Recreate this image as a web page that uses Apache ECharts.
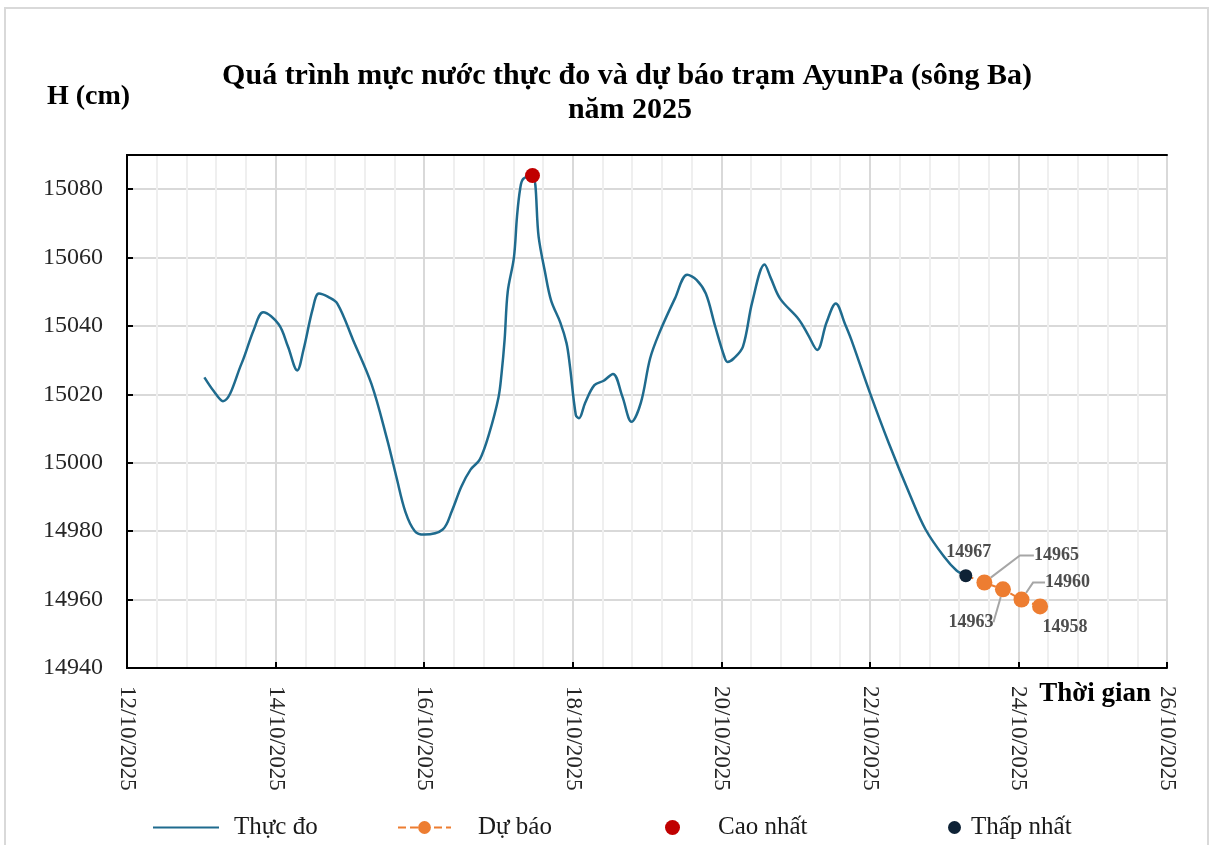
<!DOCTYPE html>
<html><head><meta charset="utf-8">
<script src="https://cdn.jsdelivr.net/npm/echarts@6/dist/echarts.min.js"></script>
<style>html,body{margin:0;padding:0;background:#fff}#c{width:1211px;height:845px}</style>
</head><body><div id="c"></div>
<script>
// ---- data ----
const observedTimes = [
 '2025-10-13 01:00','2025-10-13 04:00','2025-10-13 07:00','2025-10-13 13:00','2025-10-13 17:00','2025-10-13 20:00',
 '2025-10-14 01:00','2025-10-14 04:00','2025-10-14 07:00','2025-10-14 09:00','2025-10-14 12:00','2025-10-14 14:00','2025-10-14 17:00','2025-10-14 20:00',
 '2025-10-15 01:00','2025-10-15 07:00','2025-10-15 12:00','2025-10-15 15:00','2025-10-15 18:00','2025-10-15 21:00',
 '2025-10-16 00:00','2025-10-16 06:00','2025-10-16 09:00','2025-10-16 12:00','2025-10-16 15:00','2025-10-16 18:00','2025-10-16 21:00',
 '2025-10-17 00:00','2025-10-17 01:00','2025-10-17 02:00','2025-10-17 03:00','2025-10-17 05:00','2025-10-17 06:00','2025-10-17 07:00','2025-10-17 08:00','2025-10-17 11:00',
 '2025-10-17 13:00','2025-10-17 15:00','2025-10-17 17:00','2025-10-17 20:00','2025-10-17 22:00','2025-10-17 23:00',
 '2025-10-18 01:00','2025-10-18 02:00','2025-10-18 04:00','2025-10-18 07:00','2025-10-18 10:00','2025-10-18 13:00','2025-10-18 16:00','2025-10-18 19:00','2025-10-18 22:00',
 '2025-10-19 01:00','2025-10-19 04:00','2025-10-19 09:00','2025-10-19 13:00','2025-10-19 16:00','2025-10-19 19:00','2025-10-19 22:00',
 '2025-10-20 01:00','2025-10-20 02:00','2025-10-20 04:00','2025-10-20 07:00','2025-10-20 10:00','2025-10-20 14:00','2025-10-20 16:00','2025-10-20 19:00',
 '2025-10-21 01:00','2025-10-21 04:00','2025-10-21 07:00','2025-10-21 10:00','2025-10-21 13:00','2025-10-21 16:00','2025-10-21 18:00',
 '2025-10-22 00:00','2025-10-22 06:00','2025-10-22 13:00','2025-10-22 18:00',
 '2025-10-23 00:00','2025-10-23 04:00','2025-10-23 07:00'
];
const observedValues = [
 15025,15021,15018,15029,15039,15044,
 15040.5,15034,15027,15033,15045,15049.5,15048.5,15046.5,
 15036,15023,15007,14996,14985.5,14980,
 14979,14980.5,14986,14993,14998,15001,15008.5,
 15019,15026,15036,15050,15060,15072,15080,15083,15084,
 15066,15056,15047.5,15041,15035,15029,
 15014,15013,15017.5,15022.7,15024,15026,15019.5,15012,15017.5,
 15030.5,15038,15048,15055,15053.5,15049.5,15040,
 15031,15029.5,15030.5,15034,15047,15058,15054,15048,
 15042,15037.5,15033,15041,15046.6,15040.5,15036,
 15020.5,15006,14990.5,14980.5,
 14972.5,14968.5,14967
];
const forecastTimes = ['2025-10-23 13:00','2025-10-23 19:00','2025-10-24 01:00','2025-10-24 07:00'];
const forecastValues = [14965, 14963, 14960, 14958];
const xTickLabels = ['12/10/2025','14/10/2025','16/10/2025','18/10/2025','20/10/2025','22/10/2025','24/10/2025','26/10/2025'];

// label placement for forecast points (style only)
const forecastLabelShift = [[72,-27],[-32,33],[46,-17],[25,21]];
const forecastLabelLines = [true, true, true, false];
const forecastLabelLen2 = [14, 0, 12, 0];

const BASE = Date.UTC(2025, 9, 12);
function toDays(s) {
  const [d, t] = s.split(' ');
  const [Y, M, D] = d.split('-').map(Number);
  const [h, m] = t.split(':').map(Number);
  return (Date.UTC(Y, M - 1, D, h, m) - BASE) / 86400000;
}
const FONT = '"Liberation Serif", "Times New Roman", serif';

const observed = observedTimes.map((t, i) => [toDays(t), observedValues[i]]);
let maxIdx = 0, minIdx = 0;
observedValues.forEach((v, i) => { if (v > observedValues[maxIdx]) maxIdx = i; if (v < observedValues[minIdx]) minIdx = i; });
const lastObs = observed[observed.length - 1];

const labelStyle = { fontFamily: FONT, fontWeight: 'bold', fontSize: 18, color: '#4d4d4d' };
const forecastData = [{ value: lastObs, symbol: 'none', label: { show: false } }].concat(
  forecastTimes.map((t, i) => ({
    value: [toDays(t), forecastValues[i]],
    label: { show: true, position: 'inside', formatter: String(forecastValues[i]), ...labelStyle },
    labelLine: { show: forecastLabelLines[i], length2: forecastLabelLen2[i], lineStyle: { color: '#A6A6A6', width: 2 } }
  }))
);

const chart = echarts.init(document.getElementById('c'), null, { renderer: 'canvas' });
const legendText = { fontFamily: FONT, fontSize: 25, color: '#1a1a1a' };
const legendBase = { top: 815, padding: 0, orient: 'horizontal' };
chart.setOption({
  animation: false,
  backgroundColor: '#fff',
  grid: { left: 127, right: 44, top: 155, bottom: 177, containLabel: false },
  graphic: [
    { type: 'rect', shape: { x: 5, y: 8, width: 1203, height: 860 }, style: { fill: 'none', stroke: '#d9d9d9', lineWidth: 2 }, z: -10 },
    { type: 'text', x: 627, y: 76, style: { text: 'Quá trình mực nước thực đo và dự báo trạm AyunPa (sông Ba)', font: 'bold 30px ' + FONT, fill: '#000', align: 'center', verticalAlign: 'middle' } },
    { type: 'text', x: 630, y: 110, style: { text: 'năm 2025', font: 'bold 30px ' + FONT, fill: '#000', align: 'center', verticalAlign: 'middle' } },
    { type: 'text', x: 47, y: 97, style: { text: 'H (cm)', font: 'bold 28px ' + FONT, fill: '#000', align: 'left', verticalAlign: 'middle' } },
    { type: 'text', x: 1151, y: 694, style: { text: 'Thời gian', font: 'bold 27px ' + FONT, fill: '#000', align: 'right', verticalAlign: 'middle' }, z: 10 }
  ],
  legend: [
    { ...legendBase, left: 152, data: [{ name: 'Thực đo', itemStyle: { opacity: 0 } }], itemWidth: 66, itemHeight: 14, textStyle: { ...legendText, padding: [0, 0, 0, 10] } },
    { ...legendBase, left: 397, data: ['Dự báo'], itemWidth: 53, itemHeight: 16, textStyle: { ...legendText, padding: [0, 0, 0, 22] } },
    { ...legendBase, left: 665, data: ['Cao nhất'], itemWidth: 15, itemHeight: 15, textStyle: { ...legendText, padding: [0, 0, 0, 33] } },
    { ...legendBase, left: 948, data: ['Thấp nhất'], itemWidth: 13, itemHeight: 13, textStyle: { ...legendText, padding: [0, 0, 0, 5] } }
  ],
  xAxis: [{
    type: 'value', min: 0, max: 14, interval: 2, position: 'bottom',
    axisLine: { show: true, lineStyle: { color: '#000', width: 2 } },
    axisTick: { show: true, inside: true, length: 6, lineStyle: { color: '#000', width: 2 } },
    axisLabel: { rotate: -90, margin: 18, fontFamily: FONT, fontSize: 23, color: '#262626', formatter: v => xTickLabels[Math.round(v / 2)] },
    splitLine: { show: true, lineStyle: { color: '#d9d9d9', width: 2 } },
    minorTick: { show: false, splitNumber: 5 },
    minorSplitLine: { show: true, lineStyle: { color: '#efefef', width: 2 } }
  }, {
    type: 'value', min: 0, max: 14, position: 'top',
    axisLine: { show: true, lineStyle: { color: '#000', width: 2 } },
    axisTick: { show: false }, axisLabel: { show: false }, splitLine: { show: false }
  }],
  yAxis: [{
    type: 'value', min: 14940, max: 15090, interval: 20,
    axisLine: { show: true, lineStyle: { color: '#000', width: 2 } },
    axisTick: { show: true, inside: true, length: 6, lineStyle: { color: '#000', width: 2 } },
    axisLabel: { margin: 24, fontFamily: FONT, fontSize: 24, color: '#262626', showMaxLabel: false, formatter: v => String(v) },
    splitLine: { show: true, lineStyle: { color: '#d9d9d9', width: 2 } }
  }, {
    type: 'value', min: 14940, max: 15090, position: 'right',
    axisLine: { show: true, lineStyle: { color: '#000', width: 2 } },
    axisTick: { show: false }, axisLabel: { show: false }, splitLine: { show: false }
  }],
  series: [
    {
      name: 'Thực đo', type: 'line', data: observed, smooth: 0.35, symbol: 'none',
      lineStyle: { color: '#1F6B8E', width: 2.5 }, itemStyle: { color: '#1F6B8E' }, z: 3
    },
    {
      name: 'Dự báo', type: 'line', data: forecastData, symbol: 'circle', symbolSize: 16,
      lineStyle: { color: '#ED7D31', width: 2, type: 'dashed' }, itemStyle: { color: '#ED7D31' }, z: 4,
      labelLayout: p => {
        const s = forecastLabelShift[p.dataIndex - 1];
        return s ? { dx: s[0], dy: s[1] } : {};
      }
    },
    {
      name: 'Cao nhất', type: 'scatter', data: [observed[maxIdx]], symbol: 'circle', symbolSize: 15,
      itemStyle: { color: '#C00000', opacity: 1 }, z: 5
    },
    {
      name: 'Thấp nhất', type: 'scatter', data: [observed[minIdx]], symbol: 'circle', symbolSize: 13,
      itemStyle: { color: '#0E2236', opacity: 1 }, z: 5,
      label: { show: true, position: 'top', distance: 5, offset: [3, -3], formatter: p => String(p.value[1]), ...labelStyle }
    }
  ]
});
</script></body></html>
